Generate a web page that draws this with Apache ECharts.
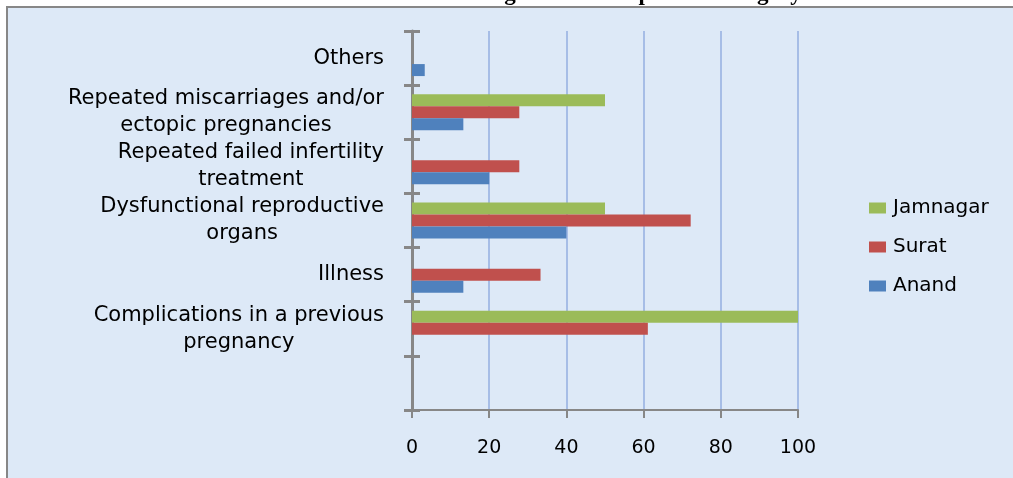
<!DOCTYPE html>
<html>
<head>
<meta charset="utf-8">
<script src="https://cdn.jsdelivr.net/npm/echarts@6/dist/echarts.min.js"></script>
<style>
html,body{margin:0;padding:0;background:#ffffff;}
#chart{width:1013px;height:478px;}
</style>
</head>
<body>
<div id="chart"></div>
<script>
var titleText = 'Reasons for Commissioning Parents to opt for Surrogacy';
var categories = [
  '',
  'Complications in a previous\npregnancy',
  'Illness',
  'Dysfunctional reproductive\norgans',
  'Repeated failed infertility\ntreatment',
  'Repeated miscarriages and/or\nectopic pregnancies',
  'Others'
];
var seriesNames = ['Jamnagar', 'Surat', 'Anand'];
var jamnagar = [null, 100, 0, 50, 0, 50, 0];
var surat = [null, 61.1, 33.3, 72.2, 27.8, 27.8, 0];
var anand = [null, 0, 13.3, 40, 20, 13.3, 3.3];
var xTicks = [0, 20, 40, 60, 80, 100];

var colors = ['#9bbb59', '#c0504d', '#4f81bd'];
var seriesData = [jamnagar, surat, anand];

var chart = echarts.init(document.getElementById('chart'), null, {renderer: 'canvas'});

function labelFmt(v) {
  if (!v) return '';
  return v.split('\n').map(function (l) { return '{c|' + l + '}'; }).join('\n');
}

var option = {
  animation: false,
  backgroundColor: '#ffffff',
  title: {
    text: titleText,
    left: 517,
    textAlign: 'center',
    top: -22,
    textStyle: {fontFamily: 'Liberation Serif', fontWeight: 'bold', fontSize: 23, color: '#000'}
  },
  graphic: [{
    type: 'rect',
    z: -10,
    shape: {x: 7, y: 7, width: 1020, height: 490},
    style: {fill: '#dde9f7', stroke: '#878787', lineWidth: 2}
  }],
  legend: {
    data: seriesNames,
    orient: 'vertical',
    left: 864,
    top: 193,
    itemWidth: 17,
    itemHeight: 11,
    itemGap: 19,
    icon: 'rect',
    textStyle: {fontFamily: 'DejaVu Sans', fontSize: 20, color: '#000', padding: [0, 0, 0, 2]}
  },
  grid: {left: 412, right: 215, top: 31, bottom: 68, containLabel: false},
  xAxis: {
    type: 'value',
    min: 0, max: 100, interval: 20,
    axisLine: {show: true, lineStyle: {color: '#878787', width: 2}},
    axisTick: {show: true, length: 8, lineStyle: {color: '#878787', width: 2}},
    axisLabel: {
      margin: 29,
      fontFamily: 'DejaVu Sans', fontSize: 19, color: '#000',
      formatter: function (v) { return xTicks.indexOf(v) >= 0 ? String(v) : ''; }
    },
    splitLine: {show: true, lineStyle: {color: '#a6bde6', width: 2}}
  },
  yAxis: [{
    type: 'category',
    data: categories,
    axisLine: {show: true, lineStyle: {color: '#878787', width: 3}},
    axisTick: {show: true, length: 8, lineStyle: {color: '#878787', width: 3}},
    axisLabel: {
      margin: 28,
      formatter: labelFmt,
      rich: {c: {align: 'center', fontFamily: 'DejaVu Sans', fontSize: 21, color: '#000', lineHeight: 27}}
    }
  }, {
    type: 'category',
    data: categories,
    position: 'left',
    axisLine: {show: false},
    axisTick: {show: true, inside: true, length: 8, lineStyle: {color: '#878787', width: 3}},
    axisLabel: {show: false},
    splitLine: {show: false}
  }],
  series: seriesNames.map(function (name, i) {
    return {
      name: name,
      type: 'bar',
      yAxisIndex: 0,
      data: seriesData[i],
      barWidth: 12,
      barGap: '0%',
      itemStyle: {color: colors[i]},
      z: 3
    };
  })
};
chart.setOption(option);
</script>
</body>
</html>
